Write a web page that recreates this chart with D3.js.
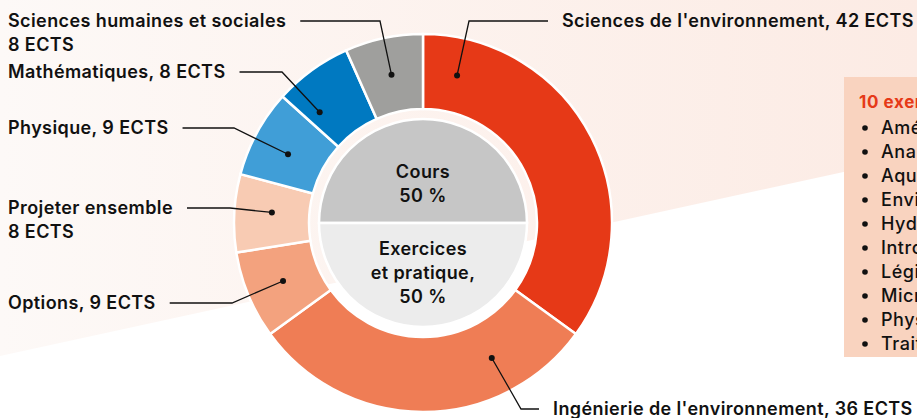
<!DOCTYPE html>
<html>
<head>
<meta charset="utf-8">
<script src="https://cdn.jsdelivr.net/npm/d3@7"></script>
<style>
  html, body { margin: 0; padding: 0; overflow: hidden; background: #fff; }
  svg { display: block; font-family: Inter, "Noto Sans", sans-serif; }
</style>
</head>
<body>
<div id="chart"></div>
<script>
// ECTS credits per domain, clockwise from 12 o'clock
const categories = [
    "Sciences de l'environnement",
    "Ingénierie de l'environnement",
    "Options",
    "Projeter ensemble",
    "Physique",
    "Mathématiques",
    "Sciences humaines et sociales"
];
const ects = [42, 36, 9, 8, 9, 8, 8];
const labelLines = [
    ["Sciences de l'environnement, 42 ECTS"],
    ["Ingénierie de l'environnement, 36 ECTS"],
    ["Options, 9 ECTS"],
    ["Projeter ensemble", "8 ECTS"],
    ["Physique, 9 ECTS"],
    ["Mathématiques, 8 ECTS"],
    ["Sciences humaines et sociales", "8 ECTS"]
];
const colors = ["#e63917", "#ef7d55", "#f3a27e", "#f8cbb3", "#409ed7", "#0079c1", "#9f9f9d"];

// inner split of teaching time
const teaching = ["Cours", "Exercices et pratique"];
const teachingShare = [50, 50];
const teachingLines = [["Cours", "50 %"], ["Exercices", "et pratique,", "50 %"]];
const teachingColors = ["#c6c6c6", "#ececec"];

// side box
const boxTitle = "10 exercices à choix";
const boxItems = [
    "Aménagement du territoire",
    "Analyse de données",
    "Aquatique et hydrobiologie",
    "Environnement construit",
    "Hydrologie",
    "Introduction à la géomatique",
    "Législation environnementale",
    "Microbiologie",
    "Physique du bâtiment",
    "Traitement des eaux"
];

const width = 917;
const height = 418;
const cx = 423, cy = 223;
const outerR = 189, innerR = 114, pieR = 104;
const fontSize = 18;
const weight = 600;
const spacing = 0.4;

// label layout: first baseline, elbow x, dot angle (deg, clockwise from top)
const labelLayout = [
    {side: "right", x: 562, y: 27, elbow: 469, angle: 13},
    {side: "right", x: 553, y: 415, elbow: 521, angle: 153},
    {side: "left", x: 8, y: 309, elbow: 232, angle: 247.5},
    {side: "left", x: 8, y: 214, elbow: 230, angle: 274},
    {side: "left", x: 8, y: 134, elbow: 234, angle: 297},
    {side: "left", x: 8, y: 78, elbow: 282, angle: 317},
    {side: "left", x: 8, y: 27, elbow: 380, angle: 348}
];

const svg = d3.select("#chart")
    .append("svg")
    .attr("width", width)
    .attr("height", height);

// Background: pale gradient wedge over white
const defs = svg.append("defs");
const grad = defs.append("linearGradient")
    .attr("id", "bg")
    .attr("x1", "0").attr("x2", "1").attr("y1", "0").attr("y2", "0");
grad.append("stop").attr("offset", "0%").attr("stop-color", "#fdf9f7");
grad.append("stop").attr("offset", "100%").attr("stop-color", "#fcebe4");

svg.append("rect").attr("width", width).attr("height", height).attr("fill", "#fff");
svg.append("path")
    .attr("d", `M0,0 L${width},0 L${width},156 L0,356 Z`)
    .attr("fill", "url(#bg)");

const g = svg.append("g").attr("transform", `translate(${cx},${cy})`);

// Outer ring
const pie = d3.pie().sort(null).value(d => d.value);
const ringData = pie(categories.map((c, i) => ({name: c, value: ects[i], i})));

const arc = d3.arc().innerRadius(innerR).outerRadius(outerR);

g.selectAll("path.ring")
    .data(ringData)
    .join("path")
    .attr("class", "ring")
    .attr("d", arc)
    .attr("fill", d => colors[d.data.i])
    .attr("stroke", "#fff")
    .attr("stroke-width", 2.5);

// Inner pie: Cours on top, Exercices below
const innerPie = d3.pie().sort(null).value(d => d.value)
    .startAngle(-Math.PI / 2).endAngle(Math.PI * 1.5);
const innerData = innerPie(teaching.map((t, i) => ({name: t, value: teachingShare[i], i})));
const innerArc = d3.arc().innerRadius(0).outerRadius(pieR);

g.selectAll("path.inner")
    .data(innerData)
    .join("path")
    .attr("class", "inner")
    .attr("d", innerArc)
    .attr("fill", d => teachingColors[d.data.i])
    .attr("stroke", "#fff")
    .attr("stroke-width", 2.5);

// Inner texts
g.selectAll("text.inner")
    .data(innerData)
    .join("text")
    .attr("class", "inner")
    .attr("text-anchor", "middle")
    .attr("font-size", fontSize)
    .attr("font-weight", weight)
    .attr("letter-spacing", spacing)
    .attr("fill", "#111")
    .each(function(d) {
        const lines = teachingLines[d.data.i];
        const y0 = d.data.i === 0 ? -45 : 32;
        d3.select(this).selectAll("tspan")
            .data(lines)
            .join("tspan")
            .attr("x", 0)
            .attr("y", (l, k) => y0 + k * 24)
            .text(l => l);
    });

// Labels with leader lines
const deg = Math.PI / 180;
const midR = (innerR + outerR) / 2;
const labels = svg.append("g");

ringData.forEach(d => {
    const i = d.data.i;
    const L = labelLayout[i];
    const t = labels.append("text")
        .attr("font-size", fontSize)
        .attr("font-weight", weight)
        .attr("letter-spacing", spacing)
        .attr("fill", "#111");
    labelLines[i].forEach((line, k) => {
        t.append("tspan")
            .attr("x", L.x)
            .attr("y", L.y + k * 24)
            .text(line);
    });
    const a = L.angle * deg;
    const dot = [cx + midR * Math.sin(a), cy - midR * Math.cos(a)];
    const lineY = L.y - 6;
    let startX;
    if (L.side === "left") {
        const firstWidth = t.select("tspan").node().getComputedTextLength();
        startX = L.x + firstWidth + 14;
    } else {
        startX = L.x - 14;
    }
    labels.append("path")
        .attr("d", d3.line()([[startX, lineY], [L.elbow, lineY], dot]))
        .attr("fill", "none")
        .attr("stroke", "#111")
        .attr("stroke-width", 1.3);
    labels.append("circle")
        .attr("cx", dot[0]).attr("cy", dot[1])
        .attr("r", 3)
        .attr("fill", "#111");
});

// Side box (cut by the right edge, as in the original)
const box = svg.append("g").attr("transform", "translate(844,77)");
box.append("rect")
    .attr("width", 120)
    .attr("height", 280)
    .attr("fill", "#f9d3bf");
box.append("text")
    .attr("x", 15)
    .attr("y", 31)
    .attr("font-size", 17)
    .attr("font-weight", 700)
    .attr("letter-spacing", 0.6)
    .attr("fill", "#e63917")
    .text(boxTitle);
const items = box.selectAll("g.item")
    .data(boxItems)
    .join("g")
    .attr("class", "item")
    .attr("transform", (d, i) => `translate(0,${51 + i * 24})`);
items.append("circle")
    .attr("cx", 21).attr("cy", 0).attr("r", 2.8).attr("fill", "#111");
items.append("text")
    .attr("x", 37)
    .attr("y", 6)
    .attr("font-size", fontSize)
    .attr("font-weight", 500)
    .attr("letter-spacing", 0.55)
    .attr("fill", "#111")
    .text(d => d);
</script>
</body>
</html>
